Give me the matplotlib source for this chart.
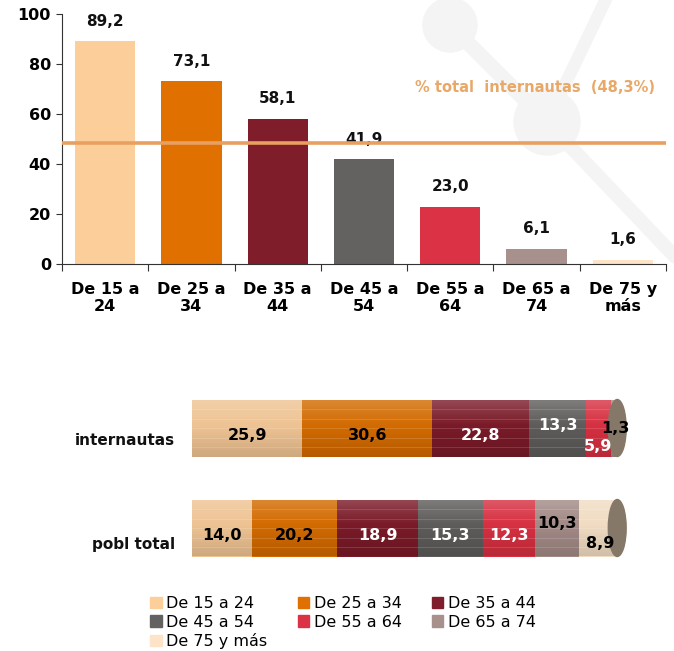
import matplotlib
matplotlib.use('Agg')
import matplotlib.pyplot as plt
import numpy as np
from matplotlib.patches import Ellipse, Circle

# age groups
categories = ["De 15 a\n24", "De 25 a\n34", "De 35 a\n44", "De 45 a\n54",
              "De 55 a\n64", "De 65 a\n74", "De 75 y\nmás"]
legend_labels = ["De 15 a 24", "De 25 a 34", "De 35 a 44", "De 45 a 54",
                 "De 55 a 64", "De 65 a 74", "De 75 y más"]
# % internet users in each age group
pct_users = [89.2, 73.1, 58.1, 41.9, 23.0, 6.1, 1.6]
total_users = 48.3
# distribution of internet users / total population by age
internautas = [25.9, 30.6, 22.8, 13.3, 5.9, 1.3, 0.2]
pobl_total = [14.0, 20.2, 18.9, 15.3, 12.3, 10.3, 8.9]
row_names = ["internautas", "pobl total"]

colors = ["#fccf9a", "#e07000", "#7f1d2b", "#646260", "#dc3245", "#a8918c", "#fde3c8"]
cyl_colors = ["#eec393", "#d26a00", "#7a1a28", "#5e5c5a", "#d63041", "#a28a86", "#f1dcc3"]

def fmt(v):
    return ("%.1f" % v).replace(".", ",")

fig = plt.figure(figsize=(6.74, 6.51), dpi=100)

# faint watermark in the background
bg = fig.add_axes([0, 0, 1, 1], zorder=-5)
bg.set_xlim(0, 674)
bg.set_ylim(651, 0)
bg.axis('off')
wm = "#f4f4f4"
bg.plot([450, 547], [25, 122], color=wm, lw=11, solid_capstyle='round')
bg.plot([547, 608], [122, -5], color=wm, lw=9, solid_capstyle='round')
bg.plot([547, 680], [122, 262], color=wm, lw=10, solid_capstyle='round')
bg.add_patch(Circle((450, 25), 27, color=wm))
bg.add_patch(Circle((547, 122), 33, color=wm))

# ---- top: bar chart ----
ax = fig.add_axes([62/674, 1-264/651, (666-62)/674, 250/651])
x = np.arange(len(categories))
ax.bar(x, pct_users, width=0.7, color=colors, zorder=2)
for xi, v in zip(x, pct_users):
    ax.text(xi, v + 5, fmt(v), ha='center', va='bottom', fontsize=11,
            fontweight='bold', color='#111111')
ax.axhline(total_users, color='#e8a060', lw=2.6, zorder=3)
ax.text(6.37, 70.5, "% total  internautas  (48,3%)", ha='right', va='center',
        fontsize=10.5, fontweight='bold', color='#e8a868')
ax.set_xlim(-0.5, 6.5)
ax.set_ylim(0, 100)
ax.set_yticks([0, 20, 40, 60, 80, 100])
ax.set_xticks(np.arange(-0.5, 7.0, 1.0))
ax.set_xticklabels([])
ax.set_xticks(x, minor=True)
ax.set_xticklabels(categories, minor=True, fontsize=11.5, fontweight='bold',
                   linespacing=1.15)
ax.tick_params(axis='x', which='minor', length=0, pad=13)
ax.tick_params(axis='x', which='major', length=5, direction='out', color='#333333')
ax.tick_params(axis='y', length=4, pad=4, labelsize=11.5, color='#333333')
for lab in ax.get_yticklabels():
    lab.set_fontweight('bold')
for s in ['top', 'right']:
    ax.spines[s].set_visible(False)
for s in ['left', 'bottom']:
    ax.spines[s].set_color('#333333')
ax.patch.set_alpha(0)

# ---- bottom: stacked cylinders ----
bx = fig.add_axes([192/674, 1-565/651, 438/674, 175/651])
bx.axis('off')
centers = [428, 528]
h = 57
# label placement per segment: (dy, color)
label_style = [
    [(7, 'k'), (7, 'k'), (7, 'w'), (-3, 'w'), (18, 'w'), (0, 'k'), None],
    [(7, 'k'), (7, 'k'), (7, 'w'), (7, 'w'), (7, 'w'), (-5, 'k'), (15, 'k')],
]
g = np.linspace(0, 1, 100)
for r, vals in enumerate([internautas, pobl_total]):
    yc = centers[r]
    bx.barh(yc, vals, left=np.cumsum([0] + vals[:-1]), height=h,
            color=cyl_colors, edgecolor='none', zorder=2)
    # shading to give a cylinder look: light on top, darker at bottom
    shade = np.zeros((100, 1, 4))
    shade[:, 0, 0:3] = np.where(g < 0.45, 1.0, 0.0)[:, None]
    shade[:, 0, 3] = np.where(g < 0.45, (0.45 - g) * 0.45, (g - 0.45) * 0.25)
    bx.imshow(shade, extent=(0, 100, yc - h/2, yc + h/2), aspect='auto',
              origin='lower', zorder=3, interpolation='bilinear')
    for k in range(1, 6):
        bx.plot([0, 100], [yc - h/2 + k*h/6]*2, color='white', lw=0.5,
                alpha=0.2, zorder=3)
    bx.add_patch(Ellipse((100, yc), 4.2, h, color='#857868', zorder=4))
    left = 0
    for j, v in enumerate(vals):
        st = label_style[r][j]
        if st is not None:
            cx = left + v/2
            if r == 0 and j == 5:
                cx = 99.5
            if r == 1 and j == 6:
                cx = 96
            bx.text(cx, yc + st[0], fmt(v), ha='center', va='center',
                    fontsize=11.5, fontweight='bold', color=st[1], zorder=5)
        left += v
    bx.text(-4, yc + 12 + r*5, row_names[r], ha='right', va='center',
            fontsize=11, fontweight='bold', color='#111111')
bx.set_xlim(0, 103)
bx.set_ylim(565, 390)

# legend, filled row by row like the original
order = [0, 3, 6, 1, 4, 2, 5]
handles = [plt.Rectangle((0, 0), 1, 1, color=colors[i]) for i in order]
fig.legend(handles, [legend_labels[i] for i in order], ncol=3, loc='upper left',
           bbox_to_anchor=(144/674, 1-590/651), frameon=False, fontsize=11.5,
           handlelength=0.7, handleheight=0.7, handletextpad=0.3,
           columnspacing=1.9, labelspacing=0.2, borderaxespad=0)

plt.savefig('out.png', dpi=100)
